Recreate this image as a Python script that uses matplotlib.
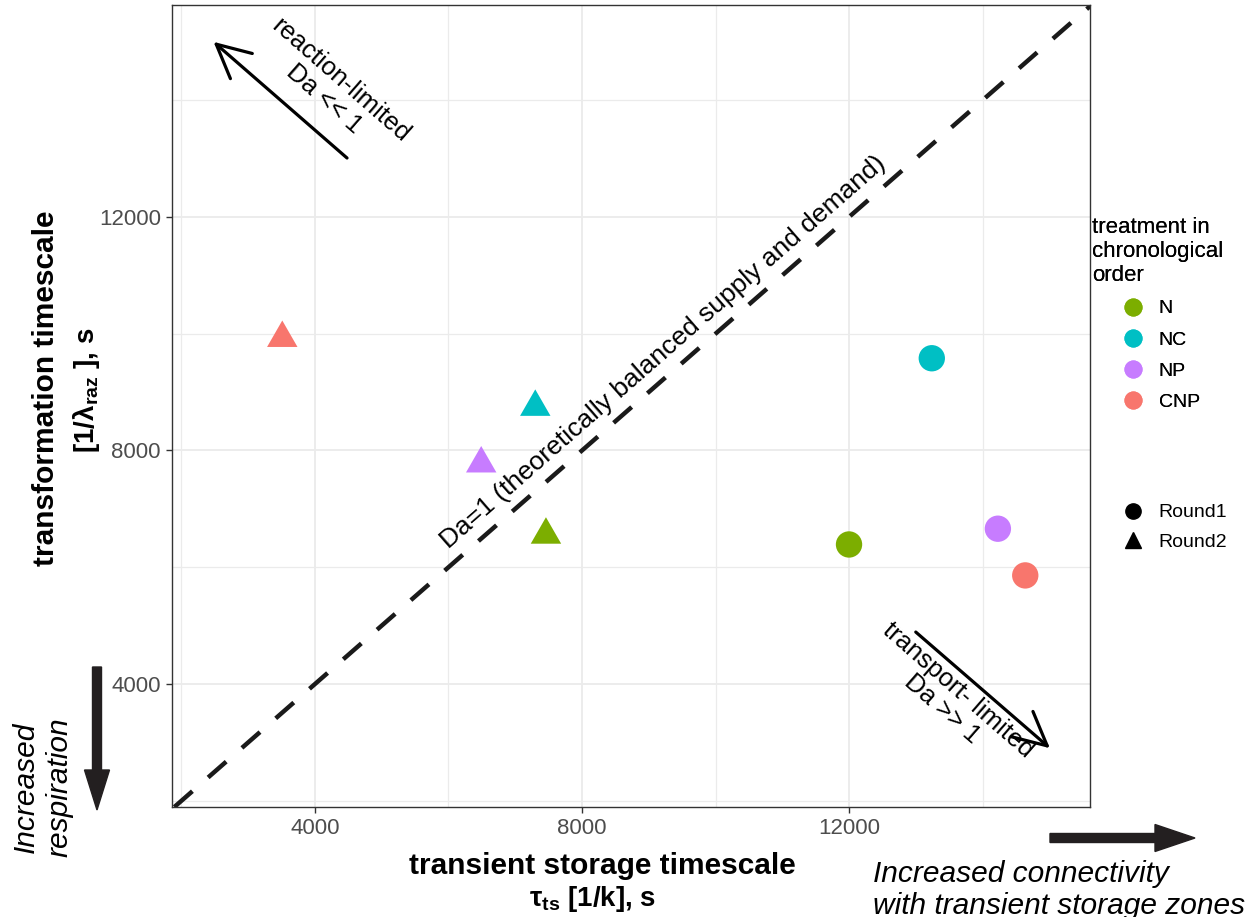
import matplotlib.pyplot as plt
from matplotlib.lines import Line2D
from matplotlib.patches import FancyArrow
from matplotlib.ticker import MultipleLocator

plt.rcParams['font.family'] = ['Liberation Sans', 'DejaVu Sans']
plt.rcParams['mathtext.fontset'] = 'custom'
plt.rcParams['mathtext.rm'] = 'Liberation Sans'
plt.rcParams['mathtext.bf'] = 'Liberation Sans:bold'
plt.rcParams['mathtext.it'] = 'Liberation Sans:italic'

treatment = ['N', 'NC', 'NP', 'CNP']
colors = ['#7CAE00', '#00BFC4', '#C77CFF', '#F8766D']
round1_x = [12000, 13240, 14230, 14640]
round1_y = [6390, 9580, 6660, 5860]
round2_x = [7460, 7300, 6490, 3510]
round2_y = [6630, 8820, 7850, 10000]
rounds = ['Round1', 'Round2']

W, H = 1256, 917
fig = plt.figure(figsize=(W / 100, H / 100), dpi=100)
ax = fig.add_axes([172 / W, 1 - 807 / H, 918 / W, 802 / H])

ax.set_xlim(1858, 15610)
ax.set_ylim(1893, 15631)

# grid
ax.xaxis.set_major_locator(MultipleLocator(4000))
ax.yaxis.set_major_locator(MultipleLocator(4000))
ax.xaxis.set_minor_locator(MultipleLocator(2000))
ax.yaxis.set_minor_locator(MultipleLocator(2000))
ax.grid(which='major', color='#EBEBEB', lw=1.3, zorder=0)
ax.grid(which='minor', color='#EBEBEB', lw=0.9, zorder=0)
ax.set_axisbelow(True)
ax.tick_params(which='minor', length=0)
ax.tick_params(which='major', length=4, width=1, color='#333333',
               labelcolor='#4D4D4D', labelsize=16, pad=4)
for s in ax.spines.values():
    s.set_color('#333333')
    s.set_linewidth(1)

# Da = 1 line
ax.axline((0, 0), slope=1, color='#1A1A1A', lw=3.2,
          linestyle=(0, (5.4, 4.7)), zorder=2)

# triangle a bit wider than tall
tri = [(-1, -0.87), (1, -0.87), (0, 0.87)]
ax.scatter(round1_x, round1_y, c=colors, s=360, marker='o', lw=0, zorder=3)
ax.scatter(round2_x, round2_y, c=colors, s=480, marker=tri, lw=0, zorder=3)

ax.text(9213, 9679, 'Da=1 (theoretically balanced supply and demand)',
        rotation=41.2, rotation_mode='anchor', ha='center', va='center',
        fontsize=19, zorder=4)

arrow_style = '->,head_length=1.0,head_width=0.5'
ax.annotate('', xy=(2480, 15000), xytext=(4480, 13010),
            arrowprops=dict(arrowstyle=arrow_style, lw=2.3, color='black',
                            mutation_scale=24, shrinkA=0, shrinkB=0))
ax.text(4260, 14180, 'reaction-limited\nDa << 1', rotation=-41.2,
        rotation_mode='anchor', ha='center', va='center', fontsize=18.5,
        linespacing=1.05)
ax.annotate('', xy=(15010, 2900), xytext=(13000, 4890),
            arrowprops=dict(arrowstyle=arrow_style, lw=2.3, color='black',
                            mutation_scale=24, shrinkA=0, shrinkB=0))
ax.text(13513, 3726, 'transport- limited\nDa >> 1', rotation=-41.2,
        rotation_mode='anchor', ha='center', va='center', fontsize=18.5,
        linespacing=1.05)

# axis titles
fig.text(602 / W, 1 - 866 / H, 'transient storage timescale',
         fontsize=21.5, fontweight='bold', ha='center', va='center')
fig.text(593 / W, 1 - 899 / H, r'τ$_{\mathbf{ts}}$ [1/k], s',
         fontsize=20, fontweight='bold', ha='center', va='center')
fig.text(46 / W, 1 - 388 / H, 'transformation timescale', rotation=90,
         fontsize=21.5, fontweight='bold', ha='center', va='center')
fig.text(86 / W, 1 - 390 / H, r'[1/λ$_{\mathbf{raz}}$ ], s', rotation=90,
         fontsize=20, fontweight='bold', ha='center', va='center')

# outside annotations
fig.add_artist(FancyArrow(0.97, 2.50, 0, -1.43, width=0.09, head_width=0.25,
                          head_length=0.40, length_includes_head=True,
                          color='#231F20', transform=fig.dpi_scale_trans))
fig.add_artist(FancyArrow(10.50, 0.79, 1.45, 0, width=0.09, head_width=0.27,
                          head_length=0.40, length_includes_head=True,
                          color='#231F20', transform=fig.dpi_scale_trans))
fig.text(43 / W, 1 - 787 / H, 'Increased\nrespiration', rotation=90,
         fontsize=21.5, style='italic', ha='center', va='center',
         multialignment='center', linespacing=1.25)
fig.text(873 / W, 1 - 890 / H, 'Increased connectivity\nwith transient storage zones',
         fontsize=21.5, style='italic', ha='left', va='center',
         multialignment='left', linespacing=1.15)

# legends
h1 = [Line2D([], [], ls='', marker='o', ms=12, mfc=c, mec=c) for c in colors]
leg1 = fig.legend(h1, treatment, loc='upper left',
                  bbox_to_anchor=(1082 / W, 1 - 207 / H), frameon=False,
                  title='treatment in\nchronological\norder', title_fontsize=16,
                  fontsize=14, alignment='left', borderpad=0,
                  handlelength=4.2, handletextpad=-0.75, labelspacing=0.7)
h2 = [Line2D([], [], ls='', marker='o', ms=11, mfc='black', mec='black'),
      Line2D([], [], ls='', marker='^', ms=12, mfc='black', mec='black')]
leg2 = fig.legend(h2, rounds, loc='upper left',
                  bbox_to_anchor=(1082 / W, 1 - 494 / H), frameon=False,
                  fontsize=14, borderpad=0, handlelength=4.2,
                  handletextpad=-0.75, labelspacing=0.62)
fig.add_artist(leg1)

fig.savefig('out.png', dpi=100)
